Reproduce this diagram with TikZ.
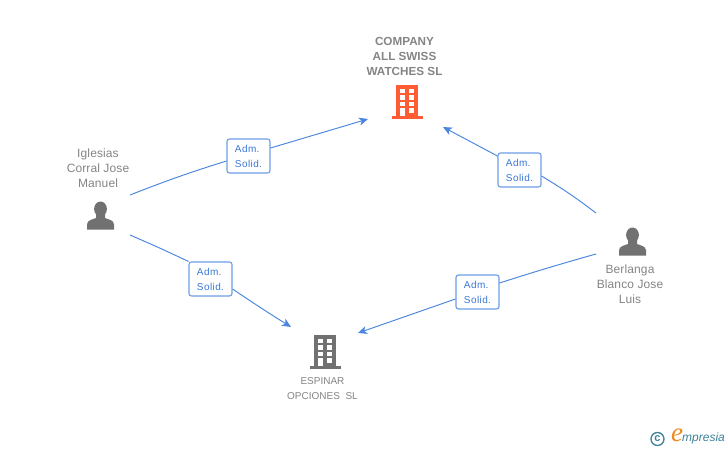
\documentclass[tikz,border=0pt]{standalone}
\usepackage{fontspec}
\setmainfont{Liberation Sans}
\newfontfamily\logoserif{Liberation Serif}
\usetikzlibrary{arrows.meta}
\definecolor{linkblue}{HTML}{4A86E0}
\definecolor{boxedge}{HTML}{6C9FE6}
\definecolor{boxtext}{HTML}{3A78D8}
\definecolor{nametext}{HTML}{858585}
\definecolor{icongray}{HTML}{717171}
\definecolor{iconorange}{HTML}{FF5C33}
\definecolor{logoteal}{HTML}{3F8299}
\definecolor{logoorange}{HTML}{EE8A1E}
\tikzset{
  x=1pt,y=-1pt,
  rolebox/.style={draw=boxedge,line width=1.1pt,fill=white,rounded corners=2.5pt,minimum width=43pt,minimum height=34pt,inner sep=0pt,align=left,text=boxtext,font=\fontsize{10}{15}\selectfont\addfontfeature{LetterSpace=4}},
  namelabel/.style={align=center,text=nametext,inner sep=0pt,font=\fontsize{12}{15}\selectfont\addfontfeature{LetterSpace=1}},
  companylabel/.style={align=center,text=nametext,inner sep=0pt,font=\fontsize{10}{15}\selectfont},
  titlelabel/.style={align=center,text=nametext,inner sep=0pt,font=\fontsize{11.7}{15}\selectfont\bfseries},
  link/.style={draw=linkblue,line width=0.95pt},
  linkarrow/.style={link,-{Stealth[length=9pt,width=8pt,inset=2.5pt]}},
}
\newcommand{\rolelines}{\raisebox{-1pt}{Adm.}\\\raisebox{-1pt}{Solid.}}
\newcommand{\buildingicon}[3]{% x, y of top-left of the body, colour
  \begin{scope}[shift={(#1,#2)}]
    \fill[#3] (0,0) rectangle (22,32);
    \fill[#3] (-4,31) rectangle (27,34);
    \fill[white] (3.5,3.5) rectangle (8.5,8.3);
    \fill[white] (13,3.5) rectangle (18,8.3);
    \fill[white] (3.5,10) rectangle (8.5,15);
    \fill[white] (13,10) rectangle (18,15);
    \fill[white] (3.5,16.7) rectangle (8.5,21.3);
    \fill[white] (13,16.7) rectangle (18,21.3);
    \fill[white] (3.5,23.3) rectangle (8.5,31);
    \fill[white] (13,23.3) rectangle (18,28);
  \end{scope}}
\newcommand{\personicon}[2]{% x of centre, y of bottom
  \begin{scope}[shift={(#1,#2)}]
    \fill[icongray] (0,-20.5) ellipse (6.4 and 7.5);
    \fill[icongray] (-13.5,0) -- (-13.5,-5) .. controls (-13.5,-9.5) and (-8,-10) .. (-4.5,-11.5)
      -- (-4.5,-16) -- (4.5,-16) -- (4.5,-11.5)
      .. controls (8,-10) and (13.5,-9.5) .. (13.5,-5) -- (13.5,0) -- cycle;
  \end{scope}}
\begin{document}
\begin{tikzpicture}
\useasboundingbox (0,0) rectangle (728,450);
\fill[white] (0,0) rectangle (728,450);

% icons
\buildingicon{396}{85}{iconorange}
\buildingicon{314}{335}{icongray}
\personicon{100.5}{229.5}
\personicon{632.5}{255.5}

% labels
\node[titlelabel] (company) at (404.5,56) {COMPANY\\ALL SWISS\\WATCHES SL};
\node[companylabel] (espinar) at (322.5,388.5) {ESPINAR\\OPCIONES\ \ SL};
\node[namelabel] (iglesias) at (98,168) {Iglesias\\Corral Jose\\Manuel};
\node[namelabel] (berlanga) at (630,284) {Berlanga\\Blanco Jose\\Luis};

% link ends
\coordinate (igl1) at (130,195);
\coordinate (igl2) at (130,235);
\coordinate (ber1) at (596,213);
\coordinate (ber2) at (596,254);
\coordinate (tc1) at (368,119);
\coordinate (tc2) at (443,127);
\coordinate (te1) at (291,327);
\coordinate (te2) at (358,333);

% role boxes
\node[rolebox] (box1) at (248.5,156) {\rolelines};
\node[rolebox] (box2) at (210.5,279) {\rolelines};
\node[rolebox] (box3) at (519.5,170) {\rolelines};
\node[rolebox] (box4) at (477.5,292) {\rolelines};

% connectors
\draw[link] (igl1) to[bend left=2] ([yshift=-5pt]box1.west);
\draw[linkarrow] ([yshift=8pt]box1.east) to[bend left=0] (tc1);
\draw[link] (igl2) to[bend left=1] (box2.north west);
\draw[linkarrow] ([yshift=-10pt]box2.east) to[bend right=1] (te1);
\draw[link] (ber1) to[bend right=3] ([yshift=-6pt]box3.east);
\draw[linkarrow] ([yshift=14pt]box3.west) to (tc2);
\draw[link] (ber2) to[bend right=1] ([yshift=9pt]box4.east);
\draw[linkarrow] ([yshift=-7pt]box4.west) to (te2);

% logo
\node[circle,draw=logoteal,line width=1.3pt,minimum size=13pt,inner sep=0pt,text=logoteal,font=\fontsize{11}{11}\selectfont\bfseries] (copyr) at (657.5,439) {c};
\node[inner sep=0pt,text=logoorange,font=\logoserif\itshape\fontsize{27}{27}\selectfont] (logoe) at (677,435) {e};
\node[anchor=west,inner sep=0pt,text=logoteal,font=\itshape\fontsize{12}{12}\selectfont] (logotext) at (682,438) {mpresia};
\end{tikzpicture}
\end{document}
